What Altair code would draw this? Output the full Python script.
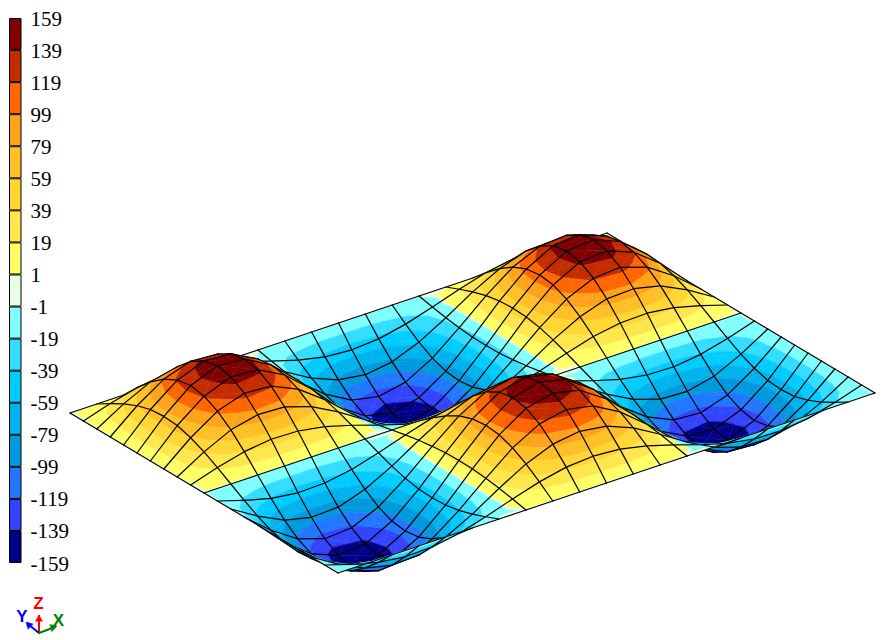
import altair as alt

# Legend
LEGEND_LABELS = ["159", "139", "119", "99", "79", "59", "39", "19", "1", "-1", "-19", "-39", "-59", "-79", "-99", "-119", "-139", "-159"]
BAND_EDGES = [159, 139, 119, 99, 79, 59, 39, 19, 1, -1, -19, -39, -59, -79, -99, -119, -139, -159]
BAND_COLORS = ["#800000", "#c42c00", "#ff6600", "#ffa31a", "#ffbf26", "#ffd633", "#ffe64d", "#ffff66", "#e6ffe6",
               "#80ffff", "#33ddff", "#00ccff", "#00b3ee", "#0099dd", "#2277ff", "#3344ff", "#000088"]

# Nodal values on the 20 x 20 element mesh, estimated from the contour bands (rows run left corner -> bottom corner)
R0 = [0] * 21
R1 = [0, 22, 40, 49, 47, 35, 15, -8, -29, -44, -49, -44, -29, -8, 15, 35, 47, 49, 40, 22, 0]
R2 = [0, 42, 76, 92, 89, 66, 29, -15, -55, -83, -93, -83, -55, -15, 29, 66, 89, 92, 76, 42, 0]
R3 = [0, 58, 104, 127, 122, 91, 40, -20, -76, -115, -129, -115, -76, -20, 40, 91, 122, 127, 104, 58, 0]
R4 = [0, 69, 122, 149, 144, 107, 47, -24, -89, -135, -151, -135, -89, -24, 47, 107, 144, 149, 122, 69, 0]
R5 = [0, 72, 129, 157, 151, 112, 49, -25, -93, -142, -159, -142, -93, -25, 49, 112, 151, 157, 129, 72, 0]
R11 = [0, -22, -40, -49, -47, -35, -15, 8, 29, 44, 49, 44, 29, 8, -15, -35, -47, -49, -40, -22, 0]
R12 = [0, -42, -76, -92, -89, -66, -29, 15, 55, 83, 93, 83, 55, 15, -29, -66, -89, -92, -76, -42, 0]
R13 = [0, -58, -104, -127, -122, -91, -40, 20, 76, 115, 129, 115, 76, 20, -40, -91, -122, -127, -104, -58, 0]
R14 = [0, -69, -122, -149, -144, -107, -47, 24, 89, 135, 151, 135, 89, 24, -47, -107, -144, -149, -122, -69, 0]
R15 = [0, -72, -129, -157, -151, -112, -49, 25, 93, 142, 159, 142, 93, 25, -49, -112, -151, -157, -129, -72, 0]
NODE_Z = [R0, R1, R2, R3, R4, R5, R4, R3, R2, R1, R0, R11, R12, R13, R14, R15, R14, R13, R12, R11, R0]

# View of the plate (screen pixels inside the chart, page margin removed)
W, H = 875, 624
ORIGIN = (70 - 8, 409 - 8)
U_VEC = (268, 160)
V_VEC = (537, -180)
Z_PX = 61.0 / 159.0
N = len(NODE_Z) - 1


def node(i, j):
    z = NODE_Z[i][j]
    return (ORIGIN[0] + U_VEC[0] * i / N + V_VEC[0] * j / N,
            ORIGIN[1] + U_VEC[1] * i / N + V_VEC[1] * j / N - Z_PX * z,
            z)


def clip(poly, level, keep_above):
    out = []
    for a, b in zip(poly, poly[1:] + poly[:1]):
        ia = a[2] >= level if keep_above else a[2] <= level
        ib = b[2] >= level if keep_above else b[2] <= level
        if ia:
            out.append(a)
        if ia != ib:
            t = (level - a[2]) / (b[2] - a[2])
            out.append((a[0] + t * (b[0] - a[0]), a[1] + t * (b[1] - a[1]), level))
    return out


def feature(points, fill, stroke, width, closed=True):
    ring = [[round(p[0], 2), round(p[1], 2)] for p in points]
    if closed:
        ring = ring + ring[:1]
        geom = {"type": "Polygon", "coordinates": [ring]}
    else:
        geom = {"type": "LineString", "coordinates": ring}
    return {"type": "Feature", "geometry": geom, "properties": {"f": fill, "s": stroke, "w": width}}


MESH_W = 1.2
features = []
for i in range(N):                      # far -> near along u
    for j in range(N - 1, -1, -1):      # far -> near along v
        a, b, c, d = node(i, j), node(i + 1, j), node(i + 1, j + 1), node(i, j + 1)
        centre = (sum(p[0] for p in (a, b, c, d)) / 4, sum(p[1] for p in (a, b, c, d)) / 4,
                  sum(p[2] for p in (a, b, c, d)) / 4)
        for tri in ([a, b, centre], [b, c, centre], [c, d, centre], [d, a, centre]):
            for k, col in enumerate(BAND_COLORS):
                hi, lo = BAND_EDGES[k], BAND_EDGES[k + 1]
                p = clip(tri, lo, True)
                if len(p) >= 3:
                    p = clip(p, hi, False)
                if len(p) >= 3:
                    features.append(feature(p, col, col, 0.5))
        # far edges now, near edges are drawn by the elements that follow
        features.append(feature([a, d], "none", "#000000", MESH_W, False))
        features.append(feature([d, c], "none", "#000000", MESH_W, False))
        if i == N - 1:
            features.append(feature([b, c], "none", "#000000", MESH_W, False))
        if j == 0:
            features.append(feature([a, b], "none", "#000000", MESH_W, False))

# Orientation triad: shafts, then filled heads
TRIAD_SHAFTS = [
    ("#ff0000", [[31, 621], [31, 604]]),
    ("#0000ff", [[31, 621], [20, 612]]),
    ("#008000", [[31, 621], [47, 615]]),
]
TRIAD_HEADS = [
    ("#ff0000", [[27.5, 609], [31, 603], [34.5, 609]]),
    ("#0000ff", [[20, 617], [18, 610], [25, 612]]),
    ("#008000", [[42, 612.5], [49, 614], [44, 619.5]]),
]
for col, pts in TRIAD_SHAFTS:
    features.append(feature(pts, "none", col, 2, False))
for col, pts in TRIAD_HEADS:
    features.append(feature(pts, col, col, 0.5))

surface = alt.Chart(alt.Data(values=features)).mark_geoshape(strokeJoin="round", strokeCap="round").encode(
    fill=alt.Fill("properties.f:N", scale=None),
    stroke=alt.Stroke("properties.s:N", scale=None),
    strokeWidth=alt.StrokeWidth("properties.w:Q", scale=None),
).project(type="identity", scale=1, translate=[0, 0])

y_scale = alt.Scale(domain=[0, 17], range=[6.5, 551.5])

boxes = alt.Chart(alt.Data(values=[
    {"i": k, "e": k + 0.97, "c": c} for k, c in enumerate(BAND_COLORS)
])).mark_rect(stroke="#000000", strokeWidth=1).encode(
    y=alt.Y("i:Q", scale=y_scale, axis=None),
    y2=alt.Y2("e:Q"),
    x=alt.value(1.5),
    x2=alt.value(13),
    fill=alt.Fill("c:N", scale=None),
)

labels = alt.Chart(alt.Data(values=[
    {"i": k, "t": t} for k, t in enumerate(LEGEND_LABELS)
])).mark_text(font="Liberation Serif", fontSize=21, align="left", baseline="middle", dy=1, color="#000000").encode(
    y=alt.Y("i:Q", scale=y_scale, axis=None),
    x=alt.value(22.5),
    text="t:N",
)

TRIAD_LABELS = ["X", "Y", "Z"]
TRIAD_COLORS = ["#008000", "#0000ff", "#ff0000"]
TRIAD_X = [50.5, 14, 30.5]
TRIAD_Y = [608.5, 605, 592]
triad_text = [
    alt.Chart(alt.Data(values=[{"t": t}])).mark_text(
        font="Liberation Sans", fontWeight="bold", fontSize=17, color=c, align="center", baseline="middle"
    ).encode(x=alt.value(x), y=alt.value(y), text="t:N")
    for t, c, x, y in zip(TRIAD_LABELS, TRIAD_COLORS, TRIAD_X, TRIAD_Y)
]

chart = alt.layer(surface, boxes, labels, *triad_text).properties(
    width=W, height=H, padding=0, background="#ffffff"
).configure_view(stroke=None)

chart.save("out.html", embed_options={"renderer": "svg", "actions": False})
